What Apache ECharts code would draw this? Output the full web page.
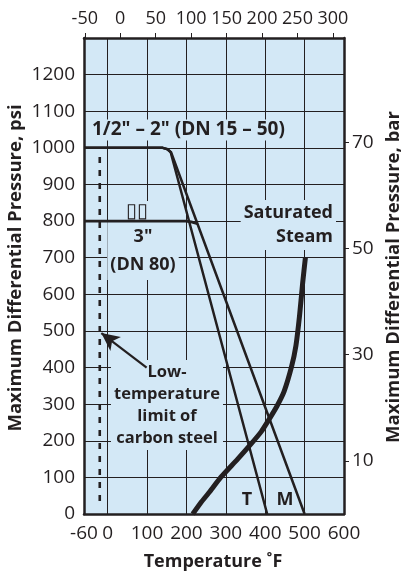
<!DOCTYPE html>
<html><head><meta charset="utf-8">
<script src="https://cdn.jsdelivr.net/npm/echarts@6/dist/echarts.min.js"></script>
<style>html,body{margin:0;padding:0;background:#fff}#c{width:404px;height:574px}</style>
</head><body><div id="c"></div>
<script>
// ---- data (°F, psi) ----
const lineT_F = [-60, 140, 152, 160, 405];
const lineT_psi = [1000, 1000, 996, 988, 0];
const lineM_F = [-60, 140, 152, 161, 500];
const lineM_psi = [1000, 1000, 996, 988, 0];
const line3in_F = [-60, 198, 212, 228];
const line3in_psi = [800, 800, 798, 793];
const steamF = [216, 236, 260, 287, 330, 363, 390, 409, 430, 448, 467, 478, 487, 495, 502];
const steamPsi = [0, 30, 62, 100, 150, 190, 225, 257, 295, 335, 403, 460, 540, 630, 700];
const lowLimitF = [-20, -20];
const lowLimitPsi = [975, 22];
const arrowFrom = [99, 400];
const arrowTo = [-16, 494];
// ---- axis ticks ----
const bottomLabels = [-60, 0, 100, 200, 300, 400, 500, 600];
const bottomGrid = [0, 100, 200, 300, 400, 500];
const topLabelsC = [-50, 0, 50, 100, 150, 200, 250, 300];
const barLabels = [10, 30, 50, 70];
const PSI_PER_BAR = 14.5038;

const zip = (a, b) => a.map((v, i) => [v, b[i]]);
const FONT = 'Open Sans';
const INK = '#231f20';
const BG = '#d3e8f6';

const chart = echarts.init(document.getElementById('c'), null, {renderer: 'canvas'});
const boxText = (extra) => Object.assign({fill: INK, fontFamily: FONT, fontWeight: 'bold', fontSize: 18, backgroundColor: BG, padding: [1, 3]}, extra);
const plain = (v) => String(v);
chart.setOption({
  animation: false,
  grid: {left: 84, top: 38, width: 260, height: 476, show: true, backgroundColor: BG, borderWidth: 0},
  xAxis: [{
    type: 'value', position: 'bottom', min: -60, max: 600,
    axisLine: {show: true, onZero: false, lineStyle: {color: INK, width: 2.5}},
    axisTick: {show: false, customValues: bottomGrid},
    axisLabel: {customValues: bottomLabels, formatter: plain, color: '#231f20', fontFamily: FONT, fontSize: 19, margin: 10},
    splitLine: {show: true, lineStyle: {color: INK, width: 1}}
  }, {
    type: 'value', position: 'top', min: (-60 - 32) * 5 / 9, max: (600 - 32) * 5 / 9,
    axisLine: {show: true, onZero: false, lineStyle: {color: INK, width: 2.5}},
    axisTick: {show: true, customValues: topLabelsC, length: 5, lineStyle: {color: INK}},
    axisLabel: {customValues: topLabelsC, formatter: plain, color: '#231f20', fontFamily: FONT, fontSize: 18, margin: 10},
    splitLine: {show: false}
  }],
  yAxis: [{
    type: 'value', position: 'left', min: 0, max: 1300, interval: 100,
    axisLine: {show: true, onZero: false, lineStyle: {color: INK, width: 2.5}},
    axisTick: {show: false},
    axisLabel: {showMaxLabel: false, formatter: plain, color: '#231f20', fontFamily: FONT, fontSize: 19, margin: 9},
    splitLine: {show: true, lineStyle: {color: INK, width: 1}}
  }, {
    type: 'value', position: 'right', min: 0, max: 1300 / PSI_PER_BAR,
    axisLine: {show: true, onZero: false, lineStyle: {color: INK, width: 2.5}},
    axisTick: {show: true, customValues: barLabels, length: 5, lineStyle: {color: INK}},
    axisLabel: {customValues: barLabels, formatter: plain, color: '#231f20', fontFamily: FONT, fontSize: 19, margin: 8},
    splitLine: {show: false}
  }],
  series: [
    {type: 'line', name: 'T', data: zip(lineT_F, lineT_psi), symbol: 'none', lineStyle: {color: INK, width: 2.5}, z: 3},
    {type: 'line', name: 'M', data: zip(lineM_F, lineM_psi), symbol: 'none', lineStyle: {color: INK, width: 2.5}, z: 3},
    {type: 'line', name: '3in', data: zip(line3in_F, line3in_psi), symbol: 'none', lineStyle: {color: INK, width: 2.8}, z: 3},
    {type: 'line', name: 'Saturated Steam', data: zip(steamF, steamPsi), symbol: 'none', smooth: 0.2, lineStyle: {color: INK, width: 5}, z: 3},
    {type: 'line', name: 'Low limit', data: zip(lowLimitF, lowLimitPsi), symbol: 'none',
     lineStyle: {color: INK, width: 2.6, type: [6, 7]}, z: 3,
     markLine: {silent: true, symbol: ['none', 'arrow'], symbolSize: [13, 18], label: {show: false},
       lineStyle: {color: INK, width: 2.2, type: 'solid'},
       data: [[{coord: arrowFrom}, {coord: arrowTo}]]}}
  ],
  graphic: [
    {type: 'text', x: 89, y: 130, z: 1, style: boxText({text: '1/2" – 2" (DN 15 – 50)', fontSize: 19, align: 'left', verticalAlign: 'middle'})},
    {type: 'text', x: 137, y: 211, z: 1, style: boxText({text: '▯▯', fontWeight: 'normal', fontSize: 20, align: 'center', verticalAlign: 'middle', padding: [0, 1]})},
    {type: 'text', x: 143, y: 251, z: 1, style: boxText({text: '3"\n(DN 80)', align: 'center', verticalAlign: 'middle', lineHeight: 28})},
    {type: 'text', x: 336, y: 225, z: 1, style: boxText({text: 'Saturated\nSteam', align: 'right', verticalAlign: 'middle', lineHeight: 24})},
    {type: 'text', x: 167, y: 405, z: 1, style: boxText({text: 'Low-\ntemperature\nlimit of\ncarbon steel', fontSize: 16.5, align: 'center', verticalAlign: 'middle', lineHeight: 22})},
    {type: 'text', x: 247, y: 500, z: 1, style: boxText({text: 'T', align: 'center', verticalAlign: 'middle', backgroundColor: 'transparent'})},
    {type: 'text', x: 285, y: 500, z: 1, style: boxText({text: 'M', align: 'center', verticalAlign: 'middle', backgroundColor: 'transparent'})},
    {type: 'text', x: 16, y: 268, rotation: Math.PI / 2, style: {text: 'Maximum Differential Pressure, psi', fill: INK, fontFamily: FONT, fontWeight: 'bold', fontSize: 18.5, align: 'center', verticalAlign: 'middle'}},
    {type: 'text', x: 394, y: 277, rotation: Math.PI / 2, style: {text: 'Maximum Differential Pressure, bar', fill: INK, fontFamily: FONT, fontWeight: 'bold', fontSize: 18.5, align: 'center', verticalAlign: 'middle'}},
    {type: 'text', x: 213, y: 562, style: {text: 'Temperature ˚F', fill: INK, fontFamily: FONT, fontWeight: 'bold', fontSize: 18, align: 'center', verticalAlign: 'middle'}}
  ]
});
</script></body></html>
